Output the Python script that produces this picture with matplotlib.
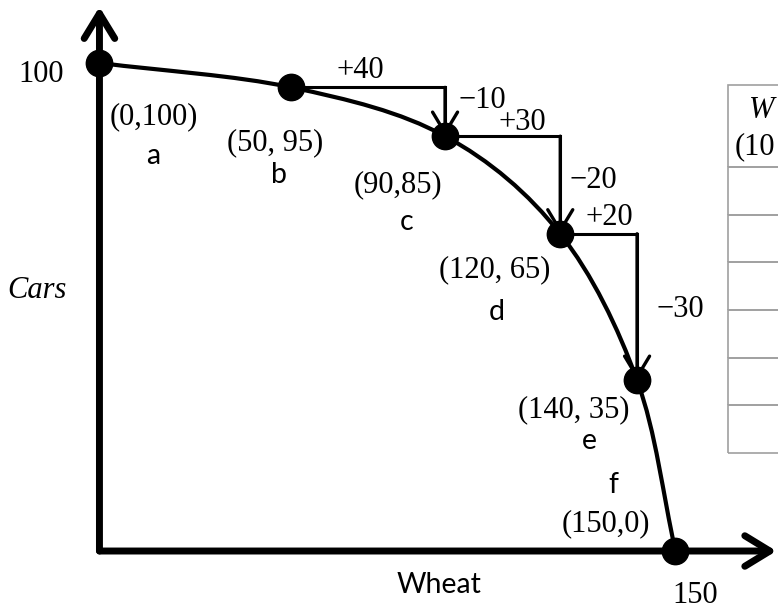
import numpy as np
import matplotlib
matplotlib.use("Agg")
import matplotlib.pyplot as plt
from matplotlib.patches import FancyArrowPatch, Rectangle, PathPatch
from matplotlib.path import Path

# ---------------- data ----------------
point_names = ["a", "b", "c", "d", "e", "f"]
wheat = [0, 50, 90, 120, 140, 150]
cars = [100, 95, 85, 65, 35, 0]
coord_labels = ["(0,100)", "(50, 95)", "(90,85)", "(120, 65)", "(140, 35)", "(150,0)"]
step_from = [1, 2, 3]                       # b->c, c->d, d->e
wheat_gain = ["+40", "+30", "+20"]
car_loss = ["\u221210", "\u221220", "\u221230"]
x_tick_value = 150
y_tick_value = 100
x_title = "Wheat"
y_title = "Cars"
table_header = ["W", "(10"]                 # only this much of the table is visible
table_rows = 6

# ---------------- style / layout ----------------
W, H = 778, 613
SERIF = "Liberation Serif"
SANS = "Lato"
FS_SERIF = 22
FS_SANS = 20.5
PX = 0.72  # points per pixel at dpi 100

# offsets (pixels, +x right, +y down) of labels relative to their point
coord_off = [(54, 54), (-16, 55), (-47, 49), (-66, 36), (-63, 30), (-70, -27)]
name_off = [(54, 93), (-12, 88), (-39, 86), (-64, 78), (-48, 61), (-62, -66)]
gain_off = [(-8, -17), (20, -14), (11, -16)]
loss_off = [(37, -11), (33, -4), (43, 3)]

fig = plt.figure(figsize=(W / 100, H / 100), dpi=100)
ax = fig.add_axes([0, 0, 1, 1])
ax.set_xlim(-25.9, 176.7)
ax.set_ylim(-12.7, 112.9)
ax.axis("off")


def off_pts(o):
    return (o[0] * PX, -o[1] * PX)


# axes with arrows
for end in [(0, 111.5), (176.3, 0)]:
    ax.add_patch(FancyArrowPatch((0, 0), end,
                                 arrowstyle="->,head_length=18,head_width=11",
                                 mutation_scale=1, lw=5, color="black",
                                 capstyle="round", joinstyle="round",
                                 shrinkA=0, shrinkB=0, zorder=3, clip_on=False))

# smooth frontier through the points (Catmull-Rom as cubic Bezier)
P = np.column_stack([wheat, cars]).astype(float)
T = np.zeros_like(P)
T[0] = P[1] - P[0]
T[-1] = P[-1] - P[-2]
T[1:-1] = (P[2:] - P[:-2]) / 2
verts = [tuple(P[0])]
codes = [Path.MOVETO]
for i in range(len(P) - 1):
    verts += [tuple(P[i] + T[i] / 3), tuple(P[i + 1] - T[i + 1] / 3), tuple(P[i + 1])]
    codes += [Path.CURVE4] * 3
ax.add_patch(PathPatch(Path(verts, codes), fill=False, lw=3, edgecolor="black",
                       capstyle="round", joinstyle="round", zorder=4))

# points
ax.plot(wheat, cars, "o", ms=19, color="black", zorder=6, clip_on=False)

# step brackets
for k, i in enumerate(step_from):
    j = i + 1
    x0, y0, x1, y1 = wheat[i], cars[i], wheat[j], cars[j]
    ax.plot([x0, x1, x1], [y0, y0, y1], color="black", lw=2.2,
            solid_joinstyle="miter", zorder=3)
    ax.add_patch(FancyArrowPatch((x1, y0), (x1, y1),
                                 arrowstyle="->,head_length=15,head_width=9",
                                 mutation_scale=1, lw=2.4, color="black",
                                 shrinkA=0, shrinkB=0, zorder=3))
    ax.annotate(wheat_gain[k], xy=((x0 + x1) / 2, y0), xytext=off_pts(gain_off[k]),
                textcoords="offset points", ha="center", va="center",
                family=SERIF, fontsize=FS_SERIF)
    ax.annotate(car_loss[k], xy=(x1, (y0 + y1) / 2), xytext=off_pts(loss_off[k]),
                textcoords="offset points", ha="center", va="center",
                family=SERIF, fontsize=FS_SERIF)

# point labels
for i in range(len(wheat)):
    ax.annotate(coord_labels[i], xy=(wheat[i], cars[i]), xytext=off_pts(coord_off[i]),
                textcoords="offset points", ha="center", va="center",
                family=SERIF, fontsize=FS_SERIF)
    ax.annotate(point_names[i], xy=(wheat[i], cars[i]), xytext=off_pts(name_off[i]),
                textcoords="offset points", ha="center", va="center",
                family=SANS, fontsize=FS_SANS)

# axis value labels
ax.annotate(str(y_tick_value), xy=(0, y_tick_value), xytext=off_pts((-58, 12)),
            textcoords="offset points", ha="center", va="center",
            family=SERIF, fontsize=FS_SERIF)
ax.annotate(str(x_tick_value), xy=(x_tick_value, 0), xytext=off_pts((20, 44)),
            textcoords="offset points", ha="center", va="center",
            family=SERIF, fontsize=FS_SERIF)

# axis titles
ax.text(439 / W, 1 - 585 / H, x_title, transform=ax.transAxes, ha="center", va="center",
        family=SANS, fontsize=FS_SANS)
ax.text(37 / W, 1 - 290 / H, y_title, transform=ax.transAxes, ha="center", va="center",
        family=SERIF, style="italic", fontsize=FS_SERIF)

# partially visible table on the right
tbl_left, tbl_top, head_h, row_h, tbl_w = 728, 85, 82, 47.7, 250
heights = [head_h] + [row_h] * table_rows
top = tbl_top
for h in heights:
    ax.add_patch(Rectangle((tbl_left / W, 1 - (top + h) / H), tbl_w / W, h / H,
                           transform=ax.transAxes, fill=False, edgecolor="#a0a0a0",
                           lw=1.2, clip_on=False, zorder=2))
    top += h
ax.text(749 / W, 1 - 110 / H, table_header[0], transform=ax.transAxes, ha="left",
        va="center", family=SERIF, style="italic", fontsize=FS_SERIF)
ax.text(735 / W, 1 - 147 / H, table_header[1], transform=ax.transAxes, ha="left",
        va="center", family=SERIF, fontsize=FS_SERIF)

fig.savefig("out.png", dpi=100, facecolor="white")
